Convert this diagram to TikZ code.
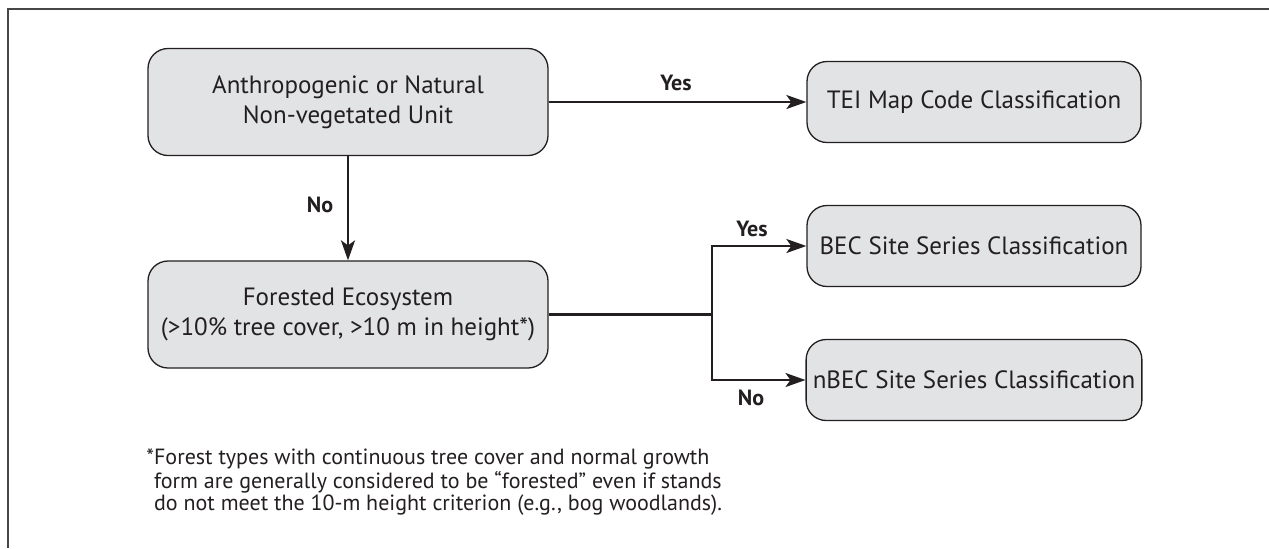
\documentclass[tikz,border=0pt]{standalone}
\usepackage{fontspec}
\setmainfont{PT Sans}
\usetikzlibrary{arrows.meta}
\definecolor{boxfill}{HTML}{E2E3E5}
\definecolor{inkgray}{HTML}{231F20}
\tikzset{
	stepbox/.style = {draw = inkgray, line width = 0.65pt, fill = boxfill, rounded corners = 10pt,
		align = center, text = inkgray, font = \fontsize{12.5}{15}\selectfont},
	flow/.style = {draw = inkgray, line width = 1.2pt, -{Stealth[length = 10pt, width = 7pt, inset = 2.5pt]}},
	answer/.style = {text = inkgray, font = \fontsize{11}{13}\selectfont\bfseries}
}
\newcommand{\bigbox}{
	\node[stepbox, minimum width = 200pt, minimum height = 53.5pt]
}
\newcommand{\smallbox}{
	\node[stepbox, minimum width = 167pt, minimum height = 40.5pt]
}

\begin{document}
\begin{tikzpicture}[x = 0.5pt, y = -0.5pt]

		\useasboundingbox (0,0) rectangle (1269,548);
		% open frame, top and left edges only
		\draw[gray!55!black, line width = 0.6pt] (8,548) -- (8,9) -- (1269,9);

		\bigbox (unit) at (348,102) {Anthropogenic or Natural\\Non-vegetated Unit};
		\bigbox (forest) at (348,314.5) {Forested Ecosystem\\(>10\% tree cover, >10 m in height*)};

		\smallbox (tei) at (974,102) {TEI Map Code Classification};
		\smallbox (bec) at (974,246) {BEC Site Series Classification};
		\smallbox (nbec) at (974,380) {nBEC Site Series Classification};

		\coordinate (split) at (712,314.5);

		\draw[flow] (unit) -- (tei);
		\draw[flow] (unit) -- (forest);
		\draw[draw = inkgray, line width = 1.2pt] (forest.east) -- (split);
		\draw[flow] (split) |- (bec.west);
		\draw[flow] (split) |- (nbec.west);

		\node[answer] (yes_1) at (676,83) {Yes};
		\node[answer] (no_1) at (320,205) {No};
		\node[answer] (yes_2) at (752,229) {Yes};
		\node[answer] (no_2) at (751,398) {No};

		% footnote under the chart (base = last line)
		\node[anchor = base west, align = left, text = inkgray, inner sep = 0pt,
			font = \fontsize{11}{10.75}\selectfont] (note) at (146,510)
			{*Forest types with continuous tree cover and normal growth\\
			\hphantom{*}form are generally considered to be “forested” even if stands\\
			\hphantom{*}do not meet the 10-m height criterion (e.g., bog woodlands).};
	\end{tikzpicture}
\end{document}
